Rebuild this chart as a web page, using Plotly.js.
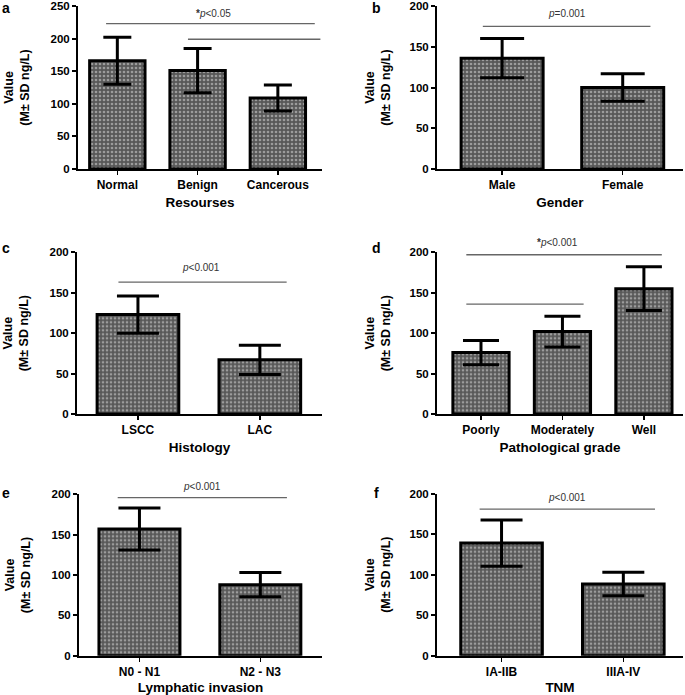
<!DOCTYPE html>
<html>
<head>
<meta charset="utf-8">
<script src="https://cdn.plot.ly/plotly-3.0.1.min.js"></script>
<style>html,body{margin:0;padding:0;background:#fff}#chart{width:685px;height:695px}</style>
</head>
<body>
<div id="chart"></div>
<script>
// ---- data ----
const catsA = ["Normal", "Benign", "Cancerous"];
const meanA = [166, 151, 109];
const sdA   = [36, 34, 20];

const catsB = ["Male", "Female"];
const meanB = [136, 100];
const sdB   = [24, 17];

const catsC = ["LSCC", "LAC"];
const meanC = [123, 67];
const sdC   = [23, 18];

const catsD = ["Poorly", "Moderately", "Well"];
const meanD = [76, 102, 155];
const sdD   = [15, 19, 27];

const catsE = ["N0 - N1", "N2 - N3"];
const meanE = [157, 88];
const sdE   = [26, 15];

const catsF = ["IA-IIB", "IIIA-IV"];
const meanF = [139, 88.5];
const sdF   = [28.5, 14.5];

const xTitles = ["Resourses", "Gender", "Histology", "Pathological grade", "Lymphatic invasion", "TNM"];
const panelLetters = ["a", "b", "c", "d", "e", "f"];
const yMax = [250, 200, 200, 200, 200, 200];

// significance brackets: [panel, fromCat, toCat, yValue]
const sigLines = [
  [0, -0.14, 2.46, 223], [0, 0.88, 2.53, 199],
  [1, -0.16, 1.23, 175],
  [2, -0.16, 1.22, 163],
  [3, -0.18, 2.22, 197], [3, -0.18, 1.26, 136],
  [4, -0.18, 1.22, 196],
  [5, -0.18, 1.26, 181]
];
// significance labels: [panel, xCat, yValue, star, text]
const sigLabels = [
  [0, 1.2, 238, true, "0.05"],
  [1, 0.54, 191, false, "=0.001"],
  [2, 0.52, 181, false, "0.001"],
  [3, 0.94, 212, true, "0.001"],
  [4, 0.52, 210, false, "0.001"],
  [5, 0.54, 195, false, "0.001"]
];

// ---- layout geometry (pixels) ----
const W = 685, H = 695;
const panels = [
  {cats: catsA, mean: meanA, sd: sdA, x0: 78,  x1: 322, yb: 169,   yt: 6,     range: [-0.49, 2.55], bw: 0.69, cap: 14, so: 18},
  {cats: catsB, mean: meanB, sd: sdB, x0: 437, x1: 683, yb: 169,   yt: 6,     range: [-0.54, 1.50], bw: 0.68, cap: 22, so: 16},
  {cats: catsC, mean: meanC, sd: sdC, x0: 77,  x1: 322, yb: 414,   yt: 252.3, range: [-0.50, 1.51], bw: 0.67, cap: 21, so: 18},
  {cats: catsD, mean: meanD, sd: sdD, x0: 437, x1: 683, yb: 414,   yt: 252.3, range: [-0.54, 2.48], bw: 0.69, cap: 18, so: 16},
  {cats: catsE, mean: meanE, sd: sdE, x0: 79,  x1: 322, yb: 655.7, yt: 494.3, range: [-0.50, 1.51], bw: 0.67, cap: 21, so: 18},
  {cats: catsF, mean: meanF, sd: sdF, x0: 437, x1: 683, yb: 655.7, yt: 493.7, range: [-0.53, 1.49], bw: 0.67, cap: 21, so: 16}
];
const letterPos = [[6, 8], [376, 8], [6, 248], [376, 248], [6, 493], [376, 493]];

const FONT = "Liberation Sans, Arial, Helvetica, sans-serif";
const traces = [];
const layout = {
  width: W, height: H,
  margin: {l: 0, r: 0, t: 0, b: 0},
  paper_bgcolor: "#fff", plot_bgcolor: "rgba(0,0,0,0)",
  showlegend: false,
  font: {family: FONT, color: "#000"},
  shapes: [], annotations: []
};

panels.forEach((p, i) => {
  const n = i + 1;
  const xa = n === 1 ? "x" : "x" + n;
  const ya = n === 1 ? "y" : "y" + n;
  traces.push({
    type: "bar",
    x: p.cats.map((c, k) => k),
    y: p.mean,
    width: p.bw,
    xaxis: xa, yaxis: ya,
    marker: {
      color: "#585858",
      line: {color: "#000", width: 3},
      pattern: {shape: ".", fgcolor: "#9c9c9c", bgcolor: "#585858", size: 4, solidity: 0.35}
    },
    error_y: {type: "data", array: p.sd, visible: true, color: "#000", thickness: 3, width: p.cap},
    hoverinfo: "skip"
  });
  const xaxisKey = n === 1 ? "xaxis" : "xaxis" + n;
  const yaxisKey = n === 1 ? "yaxis" : "yaxis" + n;
  layout[xaxisKey] = {
    domain: [p.x0 / W, p.x1 / W],
    anchor: ya,
    range: p.range,
    tickmode: "array",
    tickvals: p.cats.map((c, k) => k),
    ticktext: p.cats,
    ticks: "outside", ticklen: 4, tickwidth: 1.5, tickcolor: "#000",
    showline: true, linecolor: "#000", linewidth: 2,
    showgrid: false, zeroline: false, fixedrange: true,
    tickfont: {family: FONT, size: 12, color: "#000", weight: "bold"},
    title: {text: xTitles[i], font: {family: FONT, size: 13.5, color: "#000", weight: "bold"}, standoff: 6}
  };
  layout[yaxisKey] = {
    domain: [1 - p.yb / H, 1 - p.yt / H],
    anchor: xa,
    range: [0, yMax[i]],
    dtick: 50,
    ticks: "outside", ticklen: 4, tickwidth: 2, tickcolor: "#000",
    showline: true, linecolor: "#000", linewidth: 2,
    showgrid: false, zeroline: false, fixedrange: true,
    tickfont: {family: FONT, size: 11.5, color: "#000", weight: "bold"},
    title: {text: "Value<br>(M± SD ng/L)", font: {family: FONT, size: 12.5, color: "#000", weight: "bold"}, standoff: p.so}
  };
  layout.annotations.push({
    xref: "paper", yref: "paper",
    x: letterPos[i][0] / W, y: 1 - letterPos[i][1] / H,
    xanchor: "center", yanchor: "middle",
    text: "<b>" + panelLetters[i] + "</b>", showarrow: false,
    font: {family: FONT, size: 14, color: "#000"}
  });
});

sigLines.forEach(s => {
  const n = s[0] + 1;
  layout.shapes.push({
    type: "line",
    xref: n === 1 ? "x" : "x" + n, yref: n === 1 ? "y" : "y" + n,
    x0: s[1], x1: s[2], y0: s[3], y1: s[3],
    line: {color: "#666", width: 1.3}
  });
});
sigLabels.forEach(s => {
  const n = s[0] + 1;
  const p = panels[s[0]];
  const d0 = 1 - p.yb / H, d1 = 1 - p.yt / H;
  const op = s[4].startsWith("=") ? "" : "&lt;";
  layout.annotations.push({
    xref: n === 1 ? "x" : "x" + n, yref: "paper",
    x: s[1], y: d0 + (s[2] / yMax[s[0]]) * (d1 - d0),
    xanchor: "center", yanchor: "middle",
    showarrow: false,
    text: (s[3] ? "<b>*</b>" : "") + "<i>p</i>" + op + s[4],
    font: {family: FONT, size: 10, color: "#333"}
  });
});

Plotly.newPlot("chart", traces, layout, {displayModeBar: false, staticPlot: true});
</script>
</body>
</html>
